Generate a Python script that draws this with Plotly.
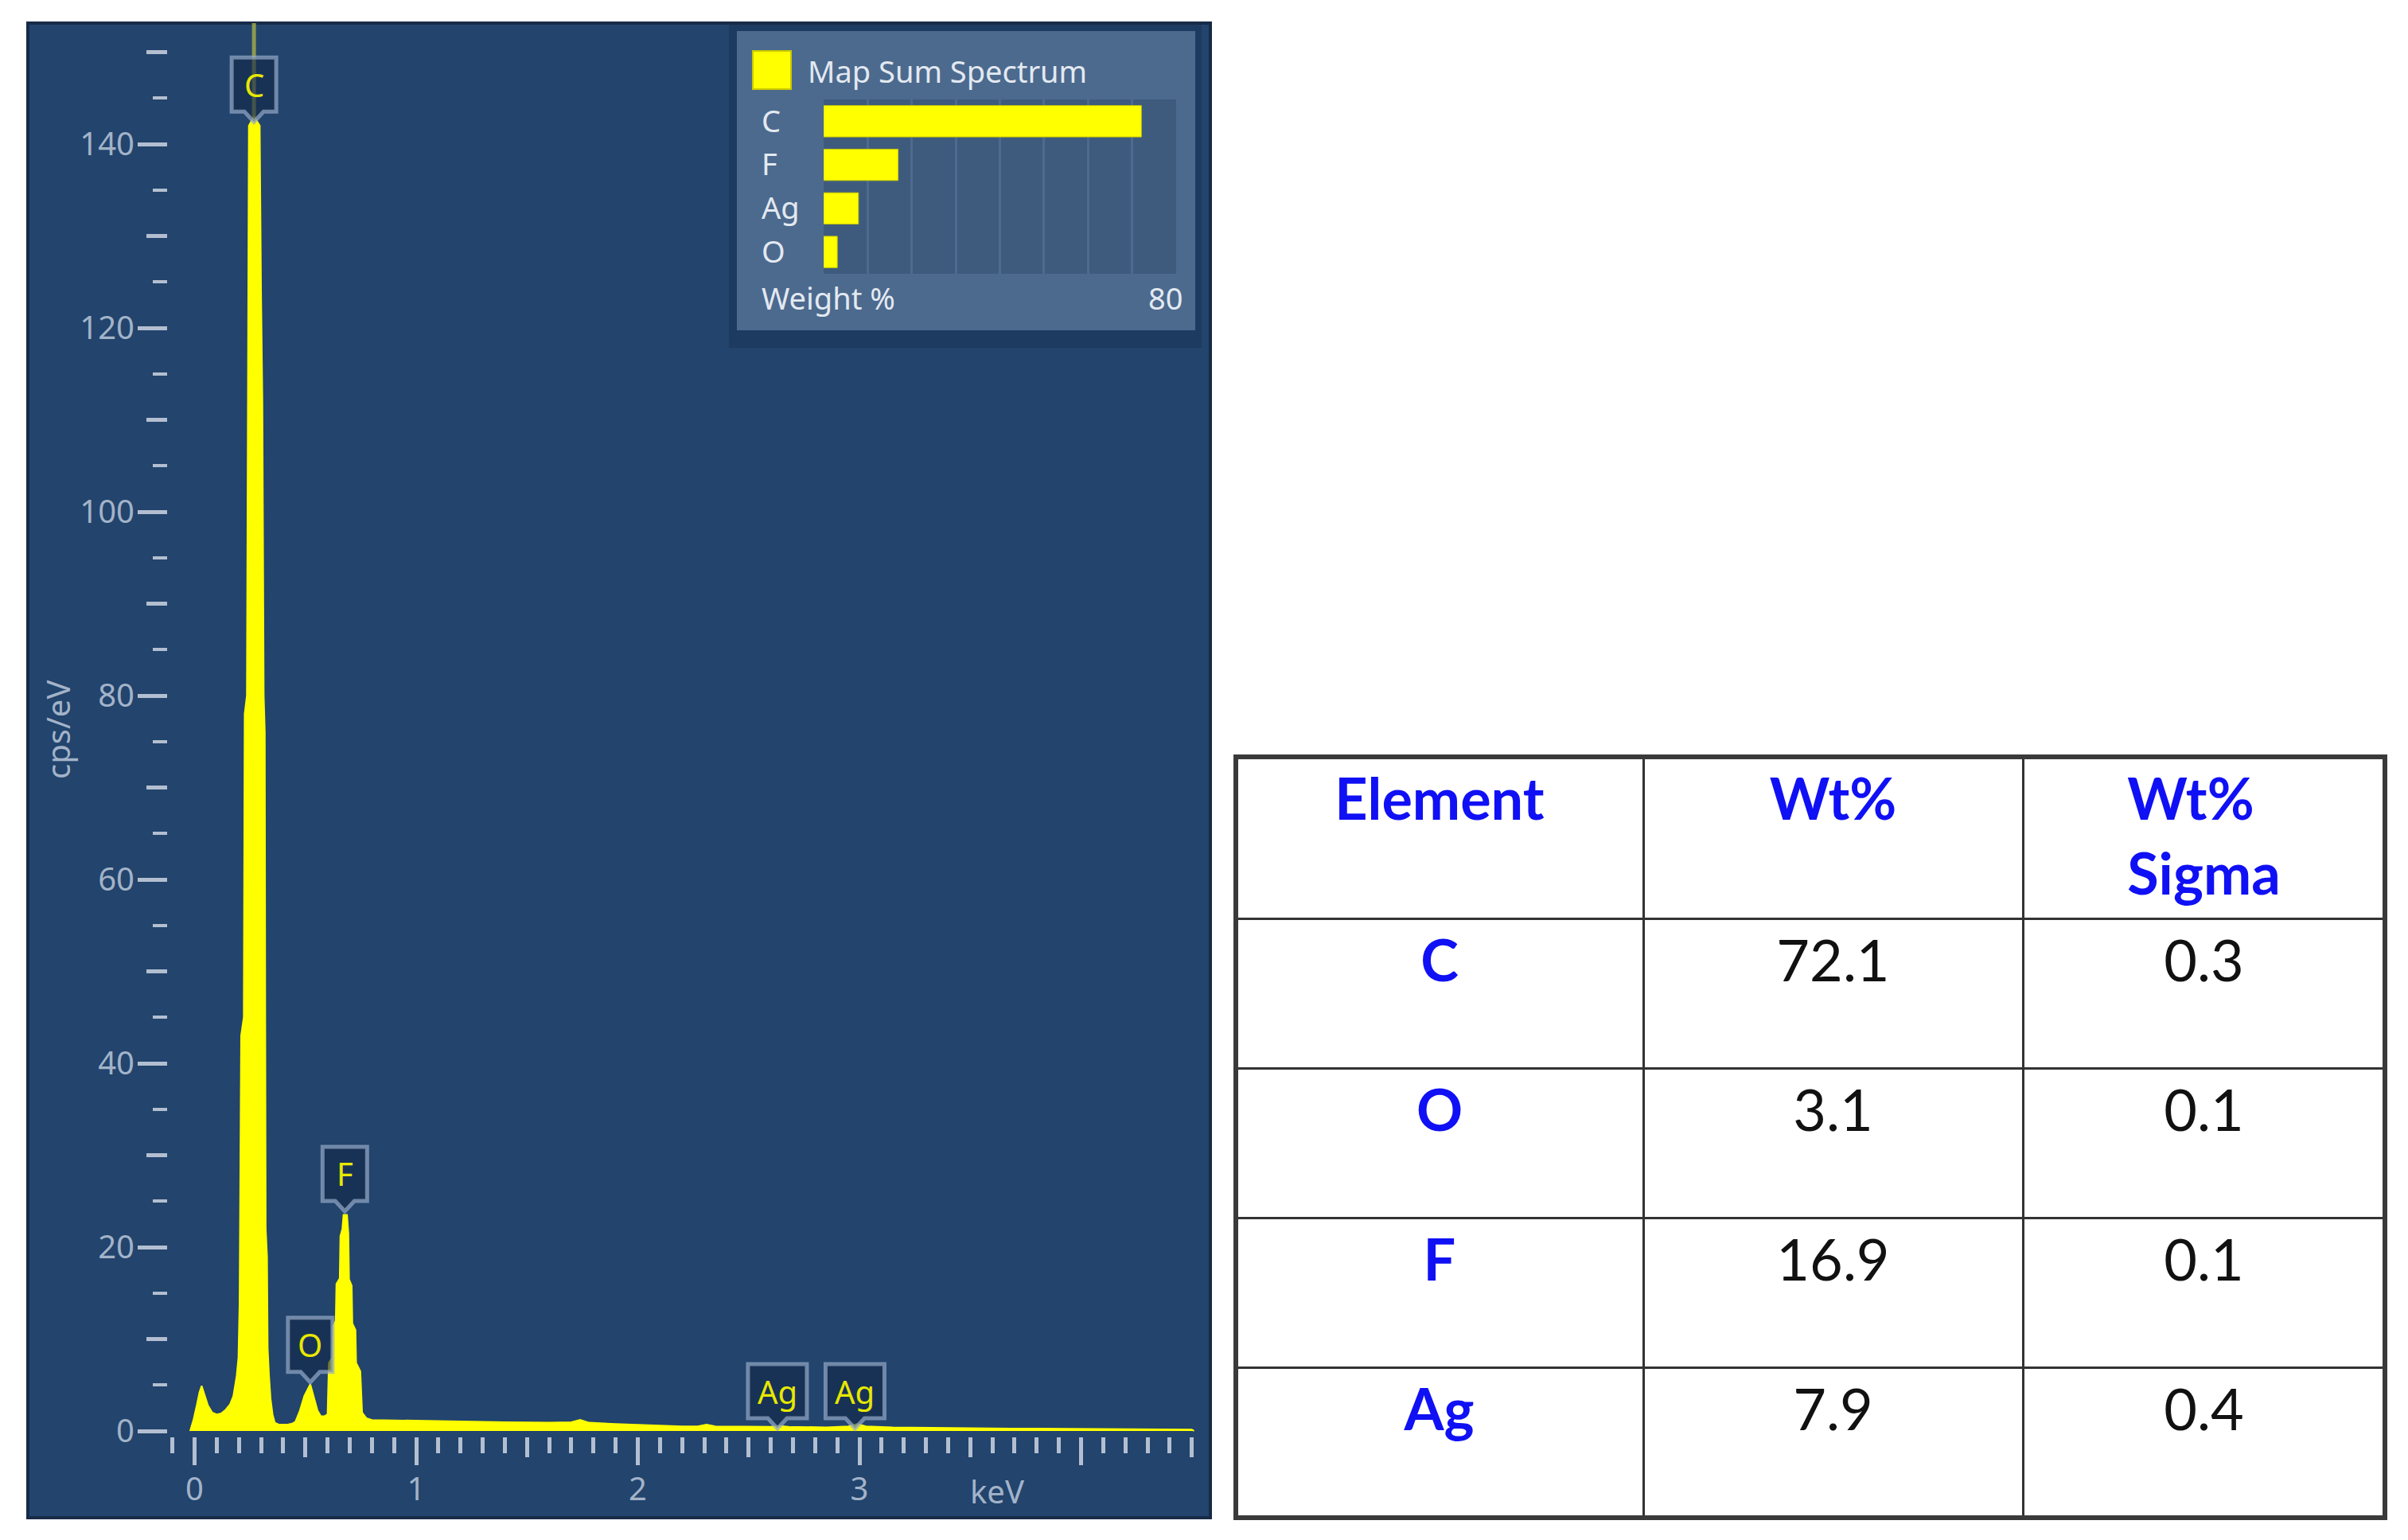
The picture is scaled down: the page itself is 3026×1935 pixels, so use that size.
import plotly.graph_objects as go

# ---------------- data ----------------
energy_keV = [-0.02, -0.005, 0.01, 0.022, 0.032, 0.045, 0.06, 0.08, 0.10, 0.12, 0.14, 0.16, 0.175,
              0.19, 0.198, 0.203, 0.207, 0.210, 0.222, 0.226, 0.236, 0.240, 0.245, 0.268, 0.294,
              0.300, 0.306, 0.312, 0.317, 0.319, 0.321, 0.327, 0.330, 0.336, 0.343, 0.352, 0.362,
              0.38, 0.42, 0.44, 0.455, 0.475, 0.495, 0.522, 0.540, 0.555, 0.570, 0.585, 0.600,
              0.606, 0.622, 0.625, 0.637, 0.640, 0.655, 0.658, 0.667, 0.672, 0.688, 0.694, 0.697,
              0.709, 0.712, 0.726, 0.729, 0.748, 0.756, 0.775, 0.80, 0.90, 1.00, 1.20, 1.40, 1.60,
              1.70, 1.74, 1.78, 1.90, 2.05, 2.20, 2.27, 2.31, 2.35, 2.50, 2.60, 2.64, 2.68, 2.85,
              2.95, 2.99, 3.03, 3.15, 3.30, 3.50, 3.80, 4.10, 4.40, 4.50, 4.51]
cps_per_eV = [0.0, 1.2, 2.8, 4.2, 4.9, 4.0, 2.8, 2.0, 1.8, 1.9, 2.3, 2.9, 3.8,
              6.0, 8.0, 14.0, 30.0, 43.0, 45.0, 78.0, 80.0, 112.0, 142.0, 143.0, 142.0,
              124.0, 112.0, 80.0, 76.0, 45.0, 22.0, 19.0, 9.0, 6.0, 3.5, 1.8, 0.9,
              0.7, 0.7, 0.8, 1.0, 2.2, 3.8, 5.1, 3.6, 2.2, 1.6, 1.6, 1.8,
              7.4, 8.0, 11.4, 12.0, 16.0, 16.6, 21.2, 22.0, 23.5, 23.5, 21.5, 16.5,
              15.8, 11.7, 11.0, 7.4, 6.5, 2.0, 1.4, 1.2, 1.15, 1.1, 1.0, 0.95, 0.9,
              0.95, 1.2, 0.9, 0.75, 0.6, 0.5, 0.5, 0.7, 0.5, 0.45, 0.45, 0.55, 0.45, 0.4,
              0.5, 0.75, 0.5, 0.4, 0.35, 0.3, 0.25, 0.2, 0.18, 0.15, 0.0]

# element markers on the spectrum
marker_labels = ["C", "O", "F", "Ag", "Ag"]
marker_keV = [0.268, 0.522, 0.678, 2.63, 2.98]
marker_cps = [142.4, 5.3, 23.9, 0.26, 0.26]

# quantification table
elements = ["C", "O", "F", "Ag"]
wt_pct = [72.1, 3.1, 16.9, 7.9]
wt_sigma = [0.3, 0.1, 0.1, 0.4]

# legend mini bar chart (sorted by weight)
legend_elements = ["C", "F", "Ag", "O"]
legend_wt = [72.1, 16.9, 7.9, 3.1]

x_major = [0, 1, 2, 3, 4]
x_major_text = ["0", "1", "2", "3", ""]
y_major = [0, 20, 40, 60, 80, 100, 120, 140]

# ---------------- geometry helpers ----------------
# page is 3026x1935; the html body has an 8px margin, so the figure is placed at (8, 8)
OFF = 8
W, H = 3026 - OFF, 1935 - OFF
def px(x):
    return (x - OFF) / W
def py(y):
    return (H - (y - OFF)) / H

PANEL_L, PANEL_R, PANEL_T, PANEL_B = 35, 1521, 29, 1907
X0_PX, X_SCALE = 244.5, 278.5
Y0_PX, Y_SCALE = 1798, 11.55
x_range = [(PANEL_L - X0_PX) / X_SCALE, (PANEL_R - X0_PX) / X_SCALE]
y_range = [-(PANEL_B - Y0_PX) / Y_SCALE, (Y0_PX - PANEL_T) / Y_SCALE]

TICK_COL = "#b3bfd0"
LAB_COL = "#a3b3c8"
FONT = "Noto Sans"

x_minor = [round(0.1 * i, 1) for i in range(-1, 46) if i % 5 != 0]
x_mid = [round(0.5 * i, 1) for i in range(1, 10, 2)]
y_minor = [5 * i for i in range(1, 30, 2)]
y_mid = [10 * i for i in range(1, 16, 2)]

fig = go.Figure()

fig.add_trace(go.Scatter(
    x=energy_keV, y=cps_per_eV, mode="lines", fill="tozeroy",
    line=dict(color="#ffff00", width=2), fillcolor="#ffff00",
    xaxis="x", yaxis="y", showlegend=False, hoverinfo="skip"))

# invisible trace to instantiate the overlay tick axes
fig.add_trace(go.Scatter(x=[None], y=[None], xaxis="x3", yaxis="y3",
                         mode="markers", showlegend=False, hoverinfo="skip"))

# legend mini bar chart
fig.add_trace(go.Bar(
    x=legend_wt, y=legend_elements, orientation="h",
    marker=dict(color="#ffff00", line=dict(color="#c9c900", width=1)),
    xaxis="x2", yaxis="y2", showlegend=False, hoverinfo="skip", width=0.72))

# table
fig.add_trace(go.Table(
    domain=dict(x=[px(1553), px(2997)], y=[py(1907), py(951)]),
    columnwidth=[512, 477, 455],
    header=dict(
        values=["<b>Element</b>", "<b>Wt%</b>", "<b>Wt%<br>Sigma</b>"],
        font=dict(family="Lato", size=72, color="#1010f5"),
        align="center", height=203, fill_color="white",
        line=dict(color="#333333", width=3)),
    cells=dict(
        values=[["<b>%s</b>" % e for e in elements],
                ["<span>%.1f</span>" % v for v in wt_pct],
                ["<span>%.1f</span>" % v for v in wt_sigma]],
        font=dict(family="Lato", size=72, color=["#1010f5", "#111111", "#111111"]),
        align="center", height=188, fill_color="white",
        line=dict(color="#333333", width=3))))

shapes = []
# spectrum panel background
shapes.append(dict(type="rect", xref="paper", yref="paper",
                   x0=px(PANEL_L), x1=px(PANEL_R), y0=py(PANEL_B), y1=py(PANEL_T),
                   fillcolor="#22446d", line=dict(color="#172b47", width=4), layer="below"))
# legend shadow, box and bar area
shapes.append(dict(type="rect", xref="paper", yref="paper",
                   x0=px(916), x1=px(1510), y0=py(437), y1=py(31),
                   fillcolor="#1d3a61", line=dict(width=0), layer="below"))
shapes.append(dict(type="rect", xref="paper", yref="paper",
                   x0=px(926), x1=px(1502), y0=py(415), y1=py(39),
                   fillcolor="#4c6a8e", line=dict(width=0), layer="below"))
shapes.append(dict(type="rect", xref="paper", yref="paper",
                   x0=px(1035), x1=px(1478), y0=py(344), y1=py(125),
                   fillcolor="#3e5b7e", line=dict(width=0), layer="below"))
# legend colour swatch
shapes.append(dict(type="rect", xref="paper", yref="paper",
                   x0=px(946), x1=px(994), y0=py(112), y1=py(64),
                   fillcolor="#ffff00", line=dict(color="#c9c900", width=2)))
# C marker line
shapes.append(dict(type="line", xref="x", yref="y",
                   x0=marker_keV[0], x1=marker_keV[0], y0=marker_cps[0], y1=y_range[1],
                   line=dict(color="rgba(200,200,60,0.65)", width=5)))
# table outer border
shapes.append(dict(type="rect", xref="paper", yref="paper",
                   x0=px(1553), x1=px(2997), y0=py(1907), y1=py(951),
                   line=dict(color="#3a3a3a", width=6)))

annotations = []
# callouts for element markers
for lab, ex, ey in zip(marker_labels, marker_keV, marker_cps):
    hw = 37 if len(lab) > 1 else 28
    path = "M 0,0 L -12,13 L -%d,13 L -%d,81 L %d,81 L %d,13 L 12,13 Z" % (hw, hw, hw, hw)
    shapes.append(dict(type="path", xref="x", yref="y", xsizemode="pixel", ysizemode="pixel",
                       xanchor=ex, yanchor=ey, path=path,
                       fillcolor="rgba(18,38,72,0.6)",
                       line=dict(color="rgba(150,170,200,0.7)", width=5)))
    annotations.append(dict(x=ex, y=ey, xref="x", yref="y", text=lab, showarrow=False,
                            yshift=47, yanchor="middle", xanchor="center",
                            font=dict(family=FONT, size=40, color="#e8e800")))

annotations += [
    dict(x=px(72), y=py(917), xref="paper", yref="paper", text="cps/eV", textangle=-90,
         showarrow=False, xanchor="center", yanchor="middle",
         font=dict(family=FONT, size=40, color=LAB_COL)),
    dict(x=3.62, y=py(1873), xref="x", yref="paper", text="keV", showarrow=False,
         yanchor="middle", xanchor="center", font=dict(family=FONT, size=40, color=LAB_COL)),
    dict(x=px(1013), y=py(89), xref="paper", yref="paper", text="Map Sum Spectrum",
         showarrow=False, xanchor="left", yanchor="middle",
         font=dict(family=FONT, size=38, color="#e3e9f1")),
    dict(x=px(955), y=py(374), xref="paper", yref="paper", text="Weight %",
         showarrow=False, xanchor="left", yanchor="middle",
         font=dict(family=FONT, size=38, color="#e3e9f1")),
    dict(x=px(1488), y=py(374), xref="paper", yref="paper", text="80",
         showarrow=False, xanchor="right", yanchor="middle",
         font=dict(family=FONT, size=38, color="#e3e9f1")),
]

ax_common = dict(showgrid=False, zeroline=False, showline=False)

fig.update_layout(
    width=W, height=H, autosize=False,
    margin=dict(l=0, r=0, t=0, b=0, pad=0),
    paper_bgcolor="white", plot_bgcolor="rgba(0,0,0,0)",
    barmode="overlay",
    shapes=shapes, annotations=annotations,
    xaxis=dict(domain=[px(PANEL_L), px(PANEL_R)], range=x_range, anchor="free",
               position=py(1805), tickmode="array", tickvals=x_major, ticktext=x_major_text,
               ticks="outside", ticklen=35, tickwidth=5, tickcolor=TICK_COL,
               ticklabelstandoff=-4,
               tickfont=dict(family=FONT, size=40, color=LAB_COL),
               minor=dict(tickmode="array", tickvals=x_mid, ticks="outside", ticklen=25,
                          tickwidth=5, tickcolor=TICK_COL, showgrid=False),
               **ax_common),
    yaxis=dict(domain=[py(PANEL_B), py(PANEL_T)], range=y_range, anchor="free",
               position=px(210), tickmode="array", tickvals=y_major,
               ticks="outside", ticklen=37, tickwidth=5, tickcolor=TICK_COL,
               ticklabelstandoff=-4,
               tickfont=dict(family=FONT, size=40, color=LAB_COL),
               minor=dict(tickmode="array", tickvals=y_mid, ticks="outside", ticklen=26,
                          tickwidth=5, tickcolor=TICK_COL, showgrid=False),
               **ax_common),
    xaxis3=dict(overlaying="x", range=x_range, anchor="free", position=py(1805),
                tickmode="array", tickvals=x_minor, ticks="outside", ticklen=20,
                tickwidth=5, tickcolor=TICK_COL, showticklabels=False, **ax_common),
    yaxis3=dict(overlaying="y", range=y_range, anchor="free", position=px(210),
                tickmode="array", tickvals=y_minor, ticks="outside", ticklen=18,
                tickwidth=4, tickcolor=TICK_COL, showticklabels=False, **ax_common),
    xaxis2=dict(domain=[px(1035), px(1478)], range=[0, 80], anchor="y2",
                showgrid=True, dtick=10, gridcolor="#4d6b8f", gridwidth=3,
                showticklabels=False, ticks="", zeroline=False, showline=False),
    yaxis2=dict(domain=[py(344), py(125)], anchor="free", position=px(956), side="right",
                categoryorder="array", categoryarray=legend_elements, autorange="reversed",
                showgrid=False, zeroline=False, showline=False, ticks="",
                ticklabelstandoff=0,
                tickfont=dict(family=FONT, size=38, color="#e3e9f1")),
)

fig.write_html("out.html")
